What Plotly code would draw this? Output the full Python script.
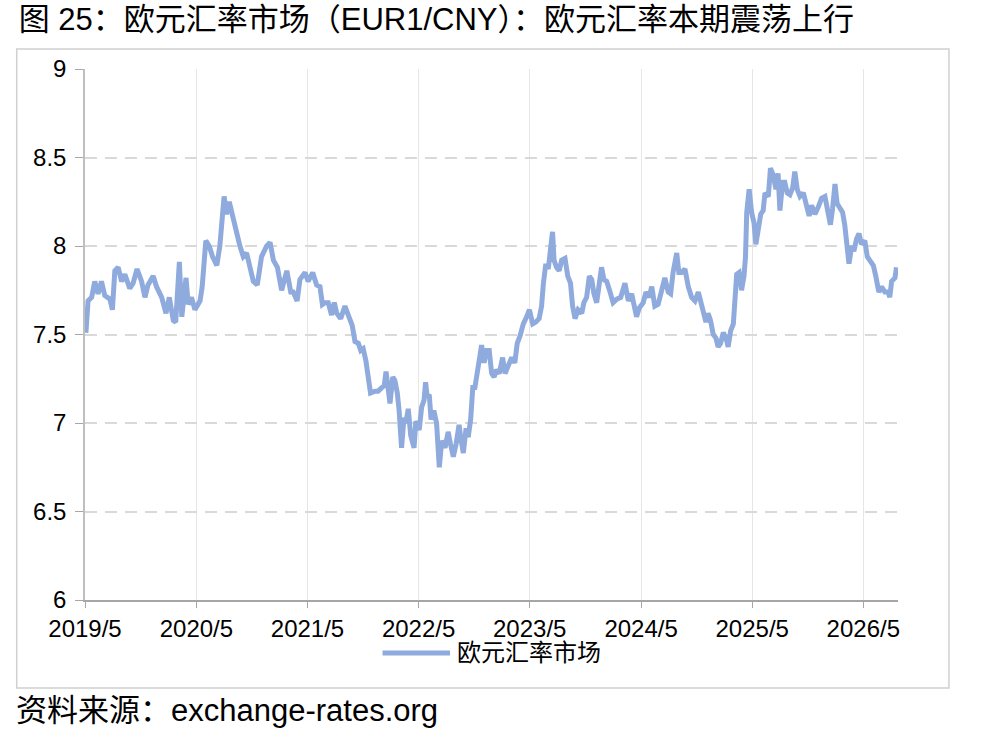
import plotly.graph_objects as go

# 欧元兑人民币（EUR1/CNY）
dates_1 = ["2019-05-04", "2019-05-11", "2019-05-23", "2019-06-02", "2019-06-13", "2019-06-24",
           "2019-07-05", "2019-07-22", "2019-07-30", "2019-08-07", "2019-08-18", "2019-08-29",
           "2019-09-09", "2019-09-25", "2019-10-06", "2019-10-19", "2019-11-03", "2019-11-14",
           "2019-11-24", "2019-12-11", "2019-12-22", "2020-01-08", "2020-01-22", "2020-02-02",
           "2020-02-15", "2020-02-23", "2020-03-06", "2020-03-14", "2020-03-28", "2020-04-04",
           "2020-04-15", "2020-04-26", "2020-05-13", "2020-05-20", "2020-06-01", "2020-06-12",
           "2020-06-23", "2020-07-07", "2020-07-17", "2020-07-31", "2020-08-08", "2020-08-17",
           "2020-08-28", "2020-09-10", "2020-09-21", "2020-10-02", "2020-10-13", "2020-10-24",
           "2020-11-04", "2020-11-17", "2020-12-01", "2020-12-18", "2020-12-29", "2021-01-09",
           "2021-01-22", "2021-02-05", "2021-02-22", "2021-03-07"]
rate_1 = [7.51, 7.69, 7.71, 7.80, 7.73, 7.80,
          7.72, 7.70, 7.64, 7.86, 7.88, 7.80,
          7.84, 7.76, 7.79, 7.87, 7.80, 7.71,
          7.78, 7.83, 7.77, 7.71, 7.62, 7.71,
          7.58, 7.57, 7.91, 7.60, 7.82, 7.67,
          7.71, 7.64, 7.69, 7.77, 8.03, 8.00,
          7.94, 7.89, 8.00, 8.28, 8.18, 8.25,
          8.17, 8.07, 8.00, 7.94, 7.96, 7.88,
          7.80, 7.78, 7.94, 8.00, 8.02, 7.92,
          7.88, 7.75, 7.86, 7.74]

dates_2 = ["2021-03-15", "2021-03-28", "2021-04-06", "2021-04-23", "2021-05-03", "2021-05-18",
           "2021-05-31", "2021-06-11", "2021-06-19", "2021-06-27", "2021-07-08", "2021-07-19",
           "2021-07-28", "2021-08-05", "2021-08-18", "2021-09-01", "2021-09-12", "2021-09-25",
           "2021-10-04", "2021-10-15", "2021-10-23", "2021-10-31", "2021-11-09", "2021-11-17",
           "2021-11-24", "2021-12-09", "2021-12-19", "2021-12-31", "2022-01-08", "2022-01-14",
           "2022-01-21", "2022-01-27", "2022-02-05", "2022-02-12", "2022-02-20", "2022-02-26",
           "2022-03-06", "2022-03-14", "2022-03-20", "2022-03-28", "2022-04-05", "2022-04-16",
           "2022-04-22", "2022-05-03", "2022-05-11", "2022-05-19", "2022-05-24", "2022-05-29",
           "2022-06-05", "2022-06-11", "2022-06-20", "2022-06-29", "2022-07-08", "2022-07-16",
           "2022-07-27", "2022-08-06", "2022-08-14", "2022-08-23", "2022-09-01", "2022-09-11",
           "2022-09-16", "2022-09-25", "2022-10-04", "2022-10-11", "2022-10-19", "2022-10-26",
           "2022-11-02", "2022-11-10", "2022-11-16", "2022-11-24", "2022-12-02", "2022-12-11",
           "2022-12-19", "2022-12-27", "2023-01-04", "2023-01-12", "2023-01-21"]
rate_2 = [7.74, 7.69, 7.81, 7.85, 7.80, 7.85,
          7.78, 7.77, 7.67, 7.68, 7.68, 7.61,
          7.68, 7.62, 7.59, 7.66, 7.60, 7.55,
          7.46, 7.45, 7.41, 7.42, 7.35, 7.22,
          7.17, 7.18, 7.18, 7.20, 7.21, 7.29,
          7.18, 7.11, 7.26, 7.24, 7.17, 7.07,
          6.86, 7.03, 7.00, 7.08, 6.93, 6.86,
          7.01, 6.96, 7.09, 7.13, 7.23, 7.15,
          7.16, 7.02, 7.07, 7.00, 6.75, 6.90,
          6.86, 6.95, 6.88, 6.81, 6.88, 6.99,
          6.92, 6.83, 6.97, 6.92, 7.02, 7.20,
          7.20, 7.30, 7.37, 7.44, 7.34, 7.41,
          7.41, 7.28, 7.26, 7.30, 7.28]

dates_3 = ["2023-02-01", "2023-02-09", "2023-02-19", "2023-03-03", "2023-03-13", "2023-03-21",
           "2023-03-30", "2023-04-10", "2023-04-21", "2023-04-30", "2023-05-11", "2023-05-21",
           "2023-06-01", "2023-06-09", "2023-06-15", "2023-06-23", "2023-07-01", "2023-07-09",
           "2023-07-15", "2023-07-20", "2023-07-28", "2023-08-06", "2023-08-14", "2023-08-25",
           "2023-09-03", "2023-09-12", "2023-09-19", "2023-09-27", "2023-10-07", "2023-10-19",
           "2023-10-26", "2023-11-04", "2023-11-13", "2023-11-21", "2023-11-28", "2023-12-07",
           "2023-12-14", "2023-12-23", "2023-12-31", "2024-01-09", "2024-01-20", "2024-01-30",
           "2024-02-11", "2024-02-24", "2024-03-09", "2024-03-20", "2024-03-31", "2024-04-07",
           "2024-04-16", "2024-04-25", "2024-05-08", "2024-05-17", "2024-05-27", "2024-06-05",
           "2024-06-15", "2024-06-26", "2024-07-07", "2024-07-18", "2024-07-29", "2024-08-06",
           "2024-08-14", "2024-08-26", "2024-09-02", "2024-09-11", "2024-09-22", "2024-10-03",
           "2024-10-14", "2024-10-25", "2024-11-05"]
rate_3 = [7.37, 7.28, 7.33, 7.37, 7.34, 7.45,
          7.49, 7.56, 7.60, 7.64, 7.56, 7.57,
          7.59, 7.66, 7.79, 7.90, 7.87, 8.02,
          8.08, 7.92, 7.88, 7.86, 7.92, 7.93,
          7.83, 7.79, 7.66, 7.59, 7.64, 7.62,
          7.68, 7.71, 7.83, 7.81, 7.73, 7.68,
          7.77, 7.88, 7.81, 7.80, 7.74, 7.68,
          7.70, 7.71, 7.79, 7.69, 7.73, 7.68,
          7.60, 7.65, 7.68, 7.74, 7.71, 7.77,
          7.66, 7.67, 7.74, 7.82, 7.74, 7.73,
          7.85, 7.96, 7.85, 7.85, 7.87, 7.77,
          7.71, 7.69, 7.74]

dates_4 = ["2024-11-21", "2024-11-30", "2024-12-07", "2024-12-15", "2024-12-24", "2025-01-02",
           "2025-01-09", "2025-01-17", "2025-01-26", "2025-02-04", "2025-02-11", "2025-02-19",
           "2025-02-28", "2025-03-05", "2025-03-11", "2025-03-19", "2025-03-27", "2025-04-04",
           "2025-04-09", "2025-04-13", "2025-04-21", "2025-04-29", "2025-05-07", "2025-05-13",
           "2025-05-21", "2025-05-29", "2025-06-06", "2025-06-12", "2025-06-23", "2025-06-30",
           "2025-07-09", "2025-07-18", "2025-07-25", "2025-07-31", "2025-08-09", "2025-08-16",
           "2025-08-24", "2025-09-02", "2025-09-11", "2025-09-18", "2025-09-26", "2025-10-05",
           "2025-10-16", "2025-10-24", "2025-11-04", "2025-11-12", "2025-11-23", "2025-12-04",
           "2025-12-15", "2025-12-26", "2026-01-04", "2026-01-13", "2026-01-20", "2026-01-28",
           "2026-02-04", "2026-02-13", "2026-02-22", "2026-03-01", "2026-03-07", "2026-03-15",
           "2026-03-24", "2026-03-31", "2026-04-09", "2026-04-17", "2026-04-25", "2026-05-06",
           "2026-05-14", "2026-05-23", "2026-06-03", "2026-06-11", "2026-06-21", "2026-06-30",
           "2026-07-11", "2026-07-22", "2026-07-27", "2026-08-02", "2026-08-13", "2026-08-18"]
rate_4 = [7.64, 7.57, 7.62, 7.58, 7.50, 7.48,
          7.43, 7.45, 7.51, 7.48, 7.43, 7.52,
          7.56, 7.73, 7.84, 7.85, 7.75, 7.83,
          7.94, 8.19, 8.32, 8.19, 8.13, 8.01,
          8.11, 8.18, 8.20, 8.30, 8.28, 8.44,
          8.40, 8.32, 8.41, 8.20, 8.36, 8.36,
          8.30, 8.29, 8.33, 8.42, 8.32, 8.28,
          8.30, 8.23, 8.17, 8.23, 8.18, 8.22,
          8.27, 8.28, 8.19, 8.12, 8.21, 8.35,
          8.24, 8.22, 8.19, 8.12, 8.00, 7.90,
          8.00, 7.97, 8.04, 8.07, 8.01, 8.03,
          7.94, 7.92, 7.89, 7.83, 7.74, 7.77,
          7.74, 7.74, 7.71, 7.80, 7.82, 7.88]

dates = dates_1 + dates_2 + dates_3 + dates_4
rates = rate_1 + rate_2 + rate_3 + rate_4

tick_dates = ["2019-05-01", "2020-05-01", "2021-05-01", "2022-05-01",
              "2023-05-01", "2024-05-01", "2025-05-01", "2026-05-01"]
tick_labels = ["2019/5", "2020/5", "2021/5", "2022/5", "2023/5", "2024/5", "2025/5", "2026/5"]
y_ticks = [6, 6.5, 7, 7.5, 8, 8.5, 9]
y_labels = ["6", "6.5", "7", "7.5", "8", "8.5", "9"]

series_name = "欧元汇率市场"
line_color = "#8FAADC"
FONT = "Liberation Sans, Arial, Noto Sans CJK SC, sans-serif"

fig = go.Figure()
fig.add_trace(go.Scatter(
    x=dates, y=rates, mode="lines", name=series_name,
    line=dict(color=line_color, width=5),
    showlegend=False,
))

fig.update_xaxes(
    type="date",
    range=["2019-05-01", "2026-08-23"],
    tickvals=tick_dates, ticktext=tick_labels,
    showgrid=True, gridcolor="#e6e6e6", gridwidth=1,
    showline=True, linecolor="#a6a6a6", linewidth=1.5,
    ticks="outside", ticklen=6, tickcolor="#a6a6a6",
    tickfont=dict(size=24, color="black", family=FONT),
)
fig.update_yaxes(
    range=[6, 9],
    tickvals=y_ticks, ticktext=y_labels,
    showgrid=True, gridcolor="#d9d9d9", gridwidth=2, griddash="12px,8px",
    showline=True, linecolor="#bfbfbf", linewidth=1.5,
    ticks="outside", ticklen=8, tickcolor="#a6a6a6",
    ticklabelstandoff=4,
    tickfont=dict(size=24, color="black", family=FONT),
    zeroline=False,
)

# 外框
fig.add_shape(type="rect", xref="paper", yref="paper",
              x0=-0.084, x1=1.0627, y0=-0.1657, y1=1.0377,
              line=dict(color="#d0d0d0", width=1.5), layer="below")

# 图例（长线段样式）
fig.add_shape(type="line", xref="paper", yref="paper",
              x0=0.366, x1=0.449, y0=-0.0998, y1=-0.0998,
              line=dict(color=line_color, width=5))
fig.add_annotation(xref="paper", yref="paper", x=0.455, y=-0.0998,
                   text=series_name, showarrow=False, xanchor="left", yanchor="middle",
                   font=dict(size=24, color="black", family=FONT))

fig.update_layout(
    width=981, height=733,
    margin=dict(l=85, r=83, t=69, b=133),
    paper_bgcolor="white", plot_bgcolor="white",
    font=dict(family=FONT, color="black"),
    title=dict(text="图 25：欧元汇率市场（EUR1/CNY）：欧元汇率本期震荡上行",
               x=0.019, xanchor="left", xref="container", y=0.974, yanchor="middle",
               font=dict(size=31, color="black", family=FONT)),
)
fig.add_annotation(xref="paper", yref="paper", x=-0.087, y=-0.209, xanchor="left", yanchor="middle",
                   text="资料来源：exchange-rates.org", showarrow=False,
                   font=dict(size=31, color="black", family=FONT))

# 去掉页面默认边距，使图与窗口左上角对齐
fig.write_html("out.html", config={"displayModeBar": False},
               post_script="document.body.style.margin='0';")
